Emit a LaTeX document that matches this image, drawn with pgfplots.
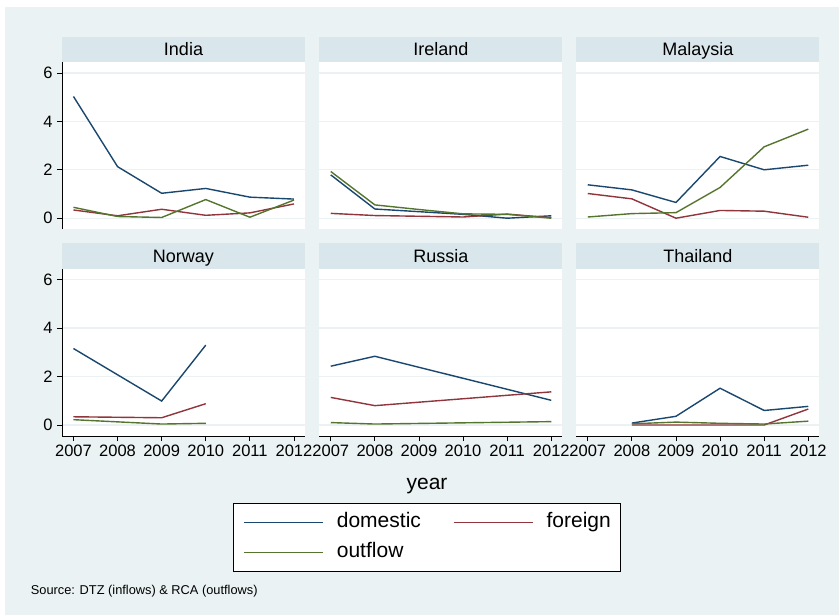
\documentclass[border=0pt]{standalone}
\usepackage{pgfplots}
\pgfplotsset{compat=1.18}
\usepackage{pgfplotstable}
\usepackage{fontspec}
\setmainfont{Liberation Sans}

\definecolor{bgc}{RGB}{234,242,243}
\definecolor{stripc}{RGB}{217,230,235}
\definecolor{gridc}{RGB}{234,242,243}
\definecolor{sdom}{RGB}{26,71,111}
\definecolor{sfor}{RGB}{144,53,59}
\definecolor{sout}{RGB}{85,117,47}

% investment flows by country (year, domestic, foreign, outflow)
\pgfplotstableread{
year dom for out
2007 5.03 0.34 0.45
2008 2.13 0.10 0.07
2009 1.03 0.37 0.03
2010 1.23 0.12 0.77
2011 0.87 0.22 0.04
2012 0.79 0.59 0.75
}\India
\pgfplotstableread{
year dom for out
2007 1.79 0.20 1.93
2008 0.38 0.11 0.55
2009 0.27 0.08 0.36
2010 0.16 0.05 0.18
2011 0.00 0.17 0.16
2012 0.10 0.02 0.00
}\Ireland
\pgfplotstableread{
year dom for out
2007 1.38 1.02 0.05
2008 1.17 0.80 0.19
2009 0.65 0.00 0.23
2010 2.55 0.32 1.27
2011 2.00 0.29 2.95
2012 2.19 0.04 3.68
}\Malaysia
\pgfplotstableread{
year dom for out
2007 3.16 0.34 0.22
2009 0.99 0.30 0.04
2010 3.30 0.88 0.07
}\Norway
\pgfplotstableread{
year dom for out
2007 2.43 1.14 0.10
2008 2.84 0.80 0.04
2012 1.02 1.37 0.14
}\Russia
\pgfplotstableread{
year dom for out
2008 0.08 0.00 0.05
2009 0.36 0.00 0.12
2010 1.52 0.00 0.07
2011 0.60 0.00 0.04
2012 0.77 0.66 0.16
}\Thailand

\pgfplotsset{
  panel/.style={
    scale only axis, width=243pt, height=167.5pt,
    anchor=north west,
    xmin=2006.74, xmax=2012.25, ymin=-0.454, ymax=6.466,
    xtick={2007,2008,2009,2010,2011,2012}, ytick={0,2,4,6},
    axis x line*=bottom, axis y line*=left,
    axis line style={line width=0.8pt, black, -},
    tick align=outside, major tick length=5pt,
    tick style={black, line width=0.8pt},
    ymajorgrids, grid style={gridc, line width=1.4pt},
    axis background/.style={fill=white},
    tick label style={font=\fontsize{16.5}{19}\selectfont},
    /pgf/number format/assume math mode=true,
    xticklabel style={/pgf/number format/1000 sep={}},
    yticklabel style={xshift=-1pt},
  },
  noy/.style={y axis line style={draw=none}, ytick style={draw=none}, yticklabels={}},
  nox/.style={x axis line style={draw=none}, xtick style={draw=none}, xticklabels={}},
  dom/.style={sdom, line width=1.4pt},
  for/.style={sfor, line width=1.4pt},
  out/.style={sout, line width=1.4pt},
}

\newcommand\strip[3]{% x-left, y-top, title
  \fill[stripc] ({#1*1pt},{-#2*1pt}) rectangle ({(#1+243)*1pt},{-(#2+25)*1pt});
  \node[anchor=base, font=\fontsize{18}{21}\selectfont, inner sep=0pt]
    at ({(#1+121.5)*1pt},{-(#2+19)*1pt}) {#3};
}

\begin{document}
\begin{tikzpicture}
\useasboundingbox (0,0) rectangle (839pt,-615pt);
\fill[white] (0,0) rectangle (839pt,-615pt);
\fill[bgc] (5pt,-7pt) rectangle (839pt,-615pt);

\strip{62}{36.7}{India}
\strip{319.3}{36.7}{Ireland}
\strip{576.3}{36.7}{Malaysia}
\strip{62}{243.5}{Norway}
\strip{319.3}{243.5}{Russia}
\strip{576.3}{243.5}{Thailand}

% top row
\begin{axis}[panel, nox, at={(62pt,-61.7pt)}]
  \addplot[dom] table[x=year,y=dom] {\India};
  \addplot[for] table[x=year,y=for] {\India};
  \addplot[out] table[x=year,y=out] {\India};
\end{axis}
\begin{axis}[panel, nox, noy, at={(319.3pt,-61.7pt)}]
  \addplot[dom] table[x=year,y=dom] {\Ireland};
  \addplot[for] table[x=year,y=for] {\Ireland};
  \addplot[out] table[x=year,y=out] {\Ireland};
\end{axis}
\begin{axis}[panel, nox, noy, at={(576.3pt,-61.7pt)}]
  \addplot[dom] table[x=year,y=dom] {\Malaysia};
  \addplot[for] table[x=year,y=for] {\Malaysia};
  \addplot[out] table[x=year,y=out] {\Malaysia};
\end{axis}

% bottom row
\begin{axis}[panel, at={(62pt,-268.5pt)}]
  \addplot[dom] table[x=year,y=dom] {\Norway};
  \addplot[for] table[x=year,y=for] {\Norway};
  \addplot[out] table[x=year,y=out] {\Norway};
\end{axis}
\begin{axis}[panel, noy, at={(319.3pt,-268.5pt)},
    legend columns=2,
    legend cell align=left,
    legend image code/.code={\draw[#1, line width=1.4pt] (0pt,0pt) -- (79pt,0pt); \path (92.3pt,0pt);},
    legend style={at={(axis description cs:-0.356,-0.398)}, anchor=north west,
      draw=black, line width=0.8pt, fill=white,
      inner xsep=10pt, inner ysep=9.3pt, column sep=0pt, row sep=10pt,
      font=\fontsize{21}{25}\selectfont,
      nodes={inner sep=0pt, text height=15pt, text depth=5pt},
      /tikz/every even column/.append style={column sep=32pt}},
  ]
  \addplot[dom] table[x=year,y=dom] {\Russia};
  \addlegendentry{domestic}
  \addplot[for] table[x=year,y=for] {\Russia};
  \addlegendentry{foreign}
  \addplot[out] table[x=year,y=out] {\Russia};
  \addlegendentry{outflow}
\end{axis}
\begin{axis}[panel, noy, at={(576.3pt,-268.5pt)}]
  \addplot[dom] table[x=year,y=dom] {\Thailand};
  \addplot[for] table[x=year,y=for] {\Thailand};
  \addplot[out] table[x=year,y=out] {\Thailand};
\end{axis}

\node[anchor=base, font=\fontsize{21}{25}\selectfont, inner sep=0pt] at (427pt,-489pt) {year};
\node[anchor=base west, font=\fontsize{12.8}{15}\selectfont, inner sep=0pt] at (30.7pt,-594pt) {Source: DTZ (inflows) \& RCA (outflows)};
\end{tikzpicture}
\end{document}
